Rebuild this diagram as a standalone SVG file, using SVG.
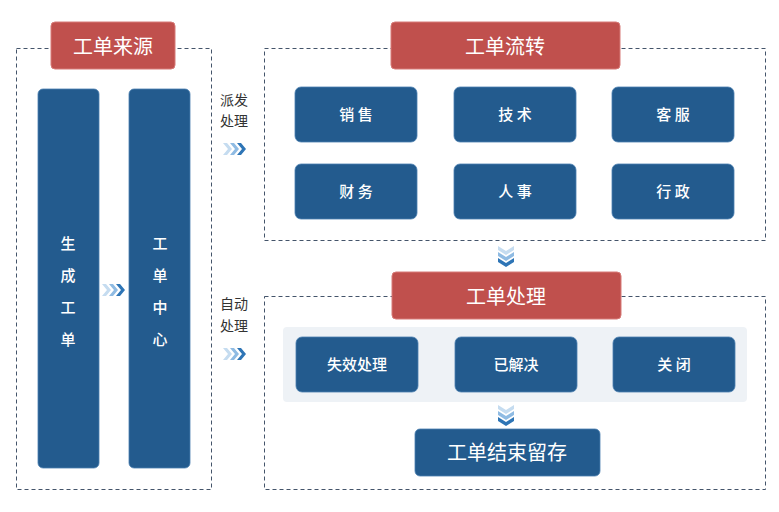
<svg xmlns="http://www.w3.org/2000/svg" width="779" height="512" viewBox="0 0 779 512">
<defs>
<style>
.dash{fill:none;stroke:#44546a;stroke-width:1;stroke-dasharray:4 3}
.red{fill:#c0504d;stroke:#d77b78;stroke-width:1}
.blue{fill:#235b8e;stroke:#4a7fb0;stroke-width:0.8}
.t{font-family:"Noto Sans CJK SC","Noto Sans",sans-serif;fill:#fff;text-anchor:middle;dominant-baseline:central}
.title{font-size:20px}
.lbl{font-size:15px;font-weight:500}
.side{font-family:"Noto Sans CJK SC","Noto Sans",sans-serif;font-size:14px;fill:#333;text-anchor:middle;dominant-baseline:central}
.c1{fill:#c5dcf0}.c2{fill:#8fbbe3}.c3{fill:#2e75b6}
</style>
<g id="chevR">
<polygon class="c1" points="0,0 4,0 9,6 4,12 0,12 5,6"/>
<polygon class="c2" points="7,0 11,0 16,6 11,12 7,12 12,6"/>
<polygon class="c3" points="14,0 18,0 23,6 18,12 14,12 19,6"/>
</g>
<g id="chevD">
<polygon class="c1" points="0,0 8,5 16,0 16,4 8,9 0,4"/>
<polygon class="c2" points="0,6 8,11 16,6 16,10 8,15 0,10"/>
<polygon class="c3" points="0,12 8,17 16,12 16,16 8,21 0,16"/>
</g>
</defs>
<rect width="779" height="512" fill="#fff"/>

<g id="connectors">
<use href="#chevR" x="102" y="284"/>
<use href="#chevR" x="223" y="143"/>
<use href="#chevR" x="223" y="348"/>
<use href="#chevD" x="498" y="246"/>
<use href="#chevD" x="498" y="405"/>
</g>

<g id="source">
<rect class="dash" x="16.5" y="48.5" width="195" height="441"/>
<rect class="red" x="51" y="22" width="124" height="47" rx="4"/>
<text class="t title" x="113" y="45">工单来源</text>
</g>
<g id="gen">
<rect class="blue" x="38" y="89" width="61" height="379" rx="5"/>
<text class="t lbl" x="68" y="242">生</text>
<text class="t lbl" x="68" y="274">成</text>
<text class="t lbl" x="68" y="306">工</text>
<text class="t lbl" x="68" y="338">单</text>
</g>
<g id="center">
<rect class="blue" x="129" y="89" width="61" height="379" rx="5"/>
<text class="t lbl" x="160" y="242">工</text>
<text class="t lbl" x="160" y="274">单</text>
<text class="t lbl" x="160" y="306">中</text>
<text class="t lbl" x="160" y="338">心</text>
</g>
<g id="label1">
<text class="side" x="234" y="99">派发</text>
<text class="side" x="234" y="120">处理</text>
</g>
<g id="label2">
<text class="side" x="234" y="303">自动</text>
<text class="side" x="234" y="325">处理</text>
</g>

<g id="flow">
<rect class="dash" x="264.5" y="48.5" width="501" height="192"/>
<rect class="red" x="391" y="22" width="229" height="47" rx="4"/>
<text class="t title" x="505" y="45">工单流转</text>
</g>
<g id="sales"><rect class="blue" x="295" y="87" width="122" height="55" rx="6"/><text class="t lbl" x="356" y="113">销 售</text></g>
<g id="tech"><rect class="blue" x="454" y="87" width="122" height="55" rx="6"/><text class="t lbl" x="515" y="113">技 术</text></g>
<g id="service"><rect class="blue" x="612" y="87" width="122" height="55" rx="6"/><text class="t lbl" x="673" y="113">客 服</text></g>
<g id="finance"><rect class="blue" x="295" y="164" width="122" height="55" rx="6"/><text class="t lbl" x="356" y="190">财 务</text></g>
<g id="hr"><rect class="blue" x="454" y="164" width="122" height="55" rx="6"/><text class="t lbl" x="515" y="190">人 事</text></g>
<g id="admin"><rect class="blue" x="612" y="164" width="122" height="55" rx="6"/><text class="t lbl" x="673" y="190">行 政</text></g>

<g id="process">
<rect class="dash" x="264.5" y="296.5" width="501" height="193"/>
<rect x="283" y="327" width="464" height="75" rx="4" fill="#eef2f6"/>
<rect class="red" x="392" y="272" width="229" height="47" rx="4"/>
<text class="t title" x="506" y="295">工单处理</text>
</g>
<g id="invalid"><rect class="blue" x="296" y="337" width="122" height="55" rx="6"/><text class="t lbl" x="357" y="363">失效处理</text></g>
<g id="solved"><rect class="blue" x="455" y="337" width="122" height="55" rx="6"/><text class="t lbl" x="516" y="363">已解决</text></g>
<g id="closed"><rect class="blue" x="613" y="337" width="122" height="55" rx="6"/><text class="t lbl" x="674" y="363">关 闭</text></g>
<g id="archive"><rect class="blue" x="415" y="429" width="185" height="47" rx="5"/><text class="t title" x="507" y="451">工单结束留存</text></g>
</svg>
